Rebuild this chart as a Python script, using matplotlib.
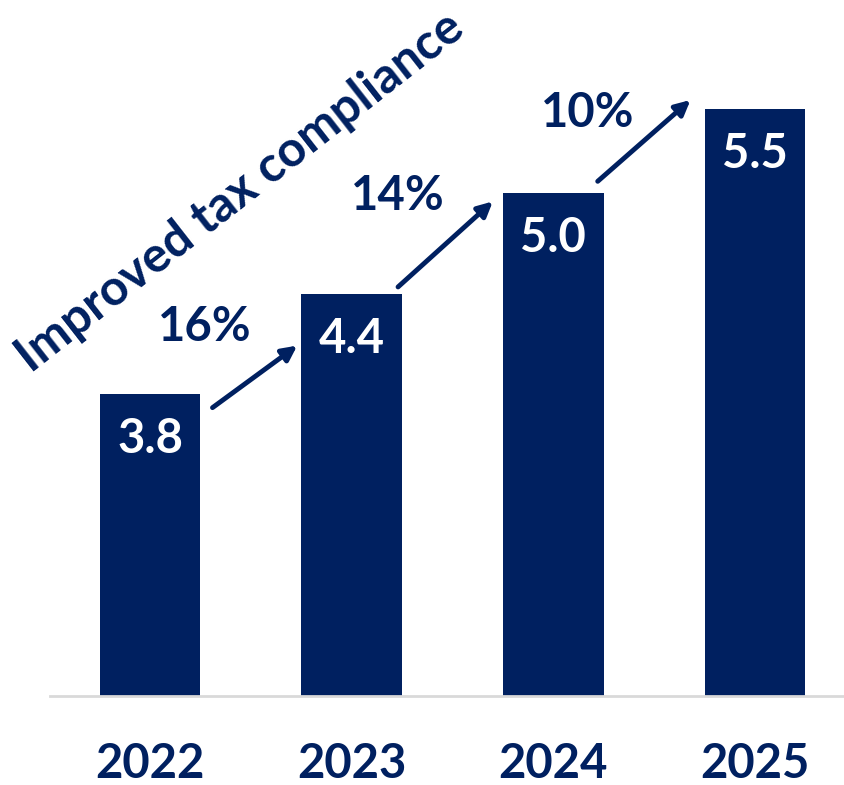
import matplotlib
matplotlib.use("Agg")
import matplotlib.pyplot as plt

years = ["2022", "2023", "2024", "2025"]
values = [3.8, 4.4, 5.0, 5.5]
growth = ["16%", "14%", "10%"]
title = "Improved tax compliance"

navy = "#002060"
plt.rcParams['font.family'] = ['Lato', 'DejaVu Sans']

fig = plt.figure(figsize=(8.45, 7.85), dpi=100)
ax = fig.add_axes([50/845, 89/785, 795/845, 696/785])
x = range(len(years))
ax.bar(x, values, width=0.5, color=navy, zorder=2)
ax.set_ylim(2.0, 2.0 + 696/167.65)
ax.set_xlim(-100/201.7, 3 + 90/201.7)

for s in ["top", "right", "left"]:
    ax.spines[s].set_visible(False)
ax.spines["bottom"].set_color("#d9d9d9")
ax.spines["bottom"].set_linewidth(2)
ax.set_yticks([])
ax.set_xticks(list(x))
ax.set_xticklabels(years, fontsize=34, fontweight="bold", color=navy)
ax.tick_params(axis="x", length=0, pad=33)

for i, v in enumerate(values):
    ax.text(i, v - 0.27, f"{v:.1f}", ha="center", va="center", color="white",
            fontsize=34, fontweight="bold")

start_dx = [0.31, 1.23 - 1, 2.22 - 2]
start_dy = [-0.08, 0.04, 0.07]
end_dx = [0.73, 0.70, 0.68]
end_dy = [-0.31, -0.05, 0.055]
lab_dx = [0.27, 0.23, 0.17]
lab_dy = [0.40, 0.58, 0.48]
for i, g in enumerate(growth):
    ax.annotate("", xy=(i + end_dx[i], values[i + 1] + end_dy[i]),
                xytext=(i + start_dx[i], values[i] + start_dy[i]),
                arrowprops=dict(arrowstyle="-|>", color=navy, lw=3.5,
                                mutation_scale=22, shrinkA=0, shrinkB=0))
    ax.text(i + lab_dx[i], values[i] + lab_dy[i], g, ha="center", va="center",
            color=navy, fontsize=34, fontweight="bold")

fig.text(240/845, 1 - 192/785, title, rotation=38, rotation_mode="anchor",
         ha="center", va="center", color=navy, fontsize=35.5, fontweight="bold")

fig.savefig("out.png", dpi=100)
